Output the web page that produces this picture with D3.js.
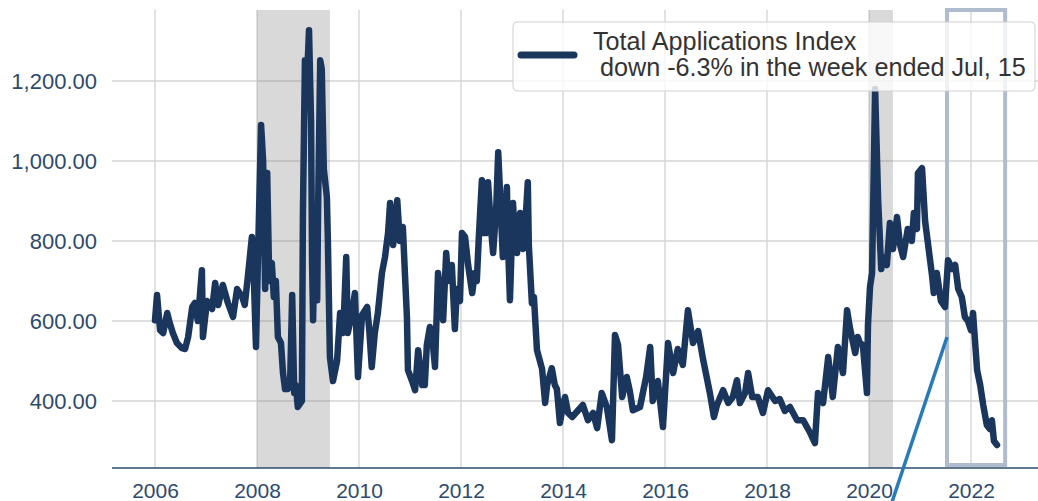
<!DOCTYPE html>
<html>
<head>
<meta charset="utf-8">
<script src="https://cdn.jsdelivr.net/npm/d3@7"></script>
<style>
  html, body { margin: 0; padding: 0; background: #fff; }
  svg { display: block; }
</style>
</head>
<body>
<svg id="chart" width="1038" height="501"></svg>
<script>
// weekly index (decimal years)
const years = [
  2006.00, 2006.04, 2006.10, 2006.16, 2006.24, 2006.29, 2006.35, 2006.43, 2006.53, 2006.59,
  2006.65, 2006.73, 2006.78, 2006.84, 2006.92, 2006.94, 2007.02, 2007.12, 2007.18, 2007.24,
  2007.33, 2007.43, 2007.53, 2007.61, 2007.71, 2007.76, 2007.82, 2007.90, 2007.94, 2007.98,
  2008.02, 2008.08, 2008.12, 2008.16, 2008.20, 2008.24, 2008.29, 2008.33, 2008.37, 2008.41,
  2008.47, 2008.51, 2008.55, 2008.61, 2008.65, 2008.69, 2008.73, 2008.76, 2008.80, 2008.88,
  2008.90, 2008.94, 2008.98, 2009.02, 2009.06, 2009.08, 2009.10, 2009.14, 2009.18, 2009.20,
  2009.24, 2009.27, 2009.29, 2009.31, 2009.37, 2009.39, 2009.43, 2009.49, 2009.57, 2009.63,
  2009.69, 2009.75, 2009.78, 2009.86, 2009.92, 2009.98, 2010.06, 2010.16, 2010.20, 2010.25,
  2010.31, 2010.37, 2010.45, 2010.51, 2010.57, 2010.61, 2010.67, 2010.75, 2010.80, 2010.86,
  2010.90, 2010.94, 2010.96, 2011.04, 2011.10, 2011.16, 2011.24, 2011.29, 2011.33, 2011.39,
  2011.45, 2011.49, 2011.55, 2011.63, 2011.65, 2011.71, 2011.75, 2011.82, 2011.88, 2011.92,
  2011.98, 2012.02, 2012.08, 2012.14, 2012.22, 2012.27, 2012.31, 2012.35, 2012.41, 2012.43,
  2012.49, 2012.53, 2012.59, 2012.63, 2012.69, 2012.73, 2012.78, 2012.82, 2012.90, 2012.92,
  2012.96, 2013.02, 2013.06, 2013.10, 2013.16, 2013.22, 2013.25, 2013.31, 2013.33, 2013.39,
  2013.43, 2013.49, 2013.59, 2013.65, 2013.69, 2013.78, 2013.84, 2013.88, 2013.94, 2014.00,
  2014.04, 2014.10, 2014.18, 2014.39, 2014.49, 2014.59, 2014.67, 2014.76, 2014.86, 2014.96,
  2015.02, 2015.08, 2015.16, 2015.25, 2015.31, 2015.37, 2015.51, 2015.63, 2015.71, 2015.76,
  2015.86, 2015.96, 2016.06, 2016.16, 2016.25, 2016.35, 2016.45, 2016.55, 2016.65, 2016.75,
  2016.88, 2016.96, 2017.02, 2017.14, 2017.24, 2017.33, 2017.41, 2017.47, 2017.57, 2017.63,
  2017.71, 2017.82, 2017.92, 2018.02, 2018.16, 2018.25, 2018.35, 2018.45, 2018.59, 2018.71,
  2018.84, 2018.94, 2019.00, 2019.10, 2019.20, 2019.29, 2019.39, 2019.49, 2019.57, 2019.63,
  2019.73, 2019.78, 2019.82, 2019.88, 2019.96, 2019.98, 2020.02, 2020.06, 2020.12, 2020.18,
  2020.24, 2020.27, 2020.35, 2020.41, 2020.47, 2020.55, 2020.61, 2020.67, 2020.76, 2020.84,
  2020.88, 2020.94, 2020.96, 2021.04, 2021.10, 2021.16, 2021.24, 2021.27, 2021.33, 2021.41,
  2021.49, 2021.55, 2021.63, 2021.69, 2021.75, 2021.82, 2021.88, 2021.94, 2022.00, 2022.04,
  2022.12, 2022.18, 2022.24, 2022.31, 2022.37, 2022.41, 2022.45, 2022.51
];
const index = [
  602, 665, 577, 570, 620, 595, 570, 545, 532, 530,
  560, 635, 645, 600, 727, 560, 650, 630, 695, 640,
  690, 645, 610, 680, 660, 640, 710, 810, 700, 535,
  760, 1090, 1000, 680, 970, 700, 745, 660, 700, 560,
  545, 470, 430, 430, 450, 665, 420, 440, 385, 400,
  860, 1252, 1200, 1327, 1100, 745, 602, 870, 652, 900,
  1252, 1230, 1100, 980, 910, 800, 510, 450, 500, 620,
  570, 760, 570, 620, 670, 460, 615, 635, 580, 485,
  570, 620, 720, 760, 820, 895, 790, 902, 800, 835,
  720, 610, 477, 450, 427, 527, 440, 440, 540, 585,
  540, 485, 720, 630, 602, 770, 700, 740, 580, 680,
  650, 820, 810, 740, 670, 720, 700, 810, 952, 820,
  820, 947, 830, 770, 880, 1022, 880, 760, 935, 800,
  652, 895, 800, 770, 870, 780, 820, 947, 790, 645,
  660, 527, 480, 395, 440, 482, 440, 430, 345, 390,
  410, 370, 360, 390, 352, 370, 332, 420, 385, 302,
  565, 540, 410, 460, 425, 377, 385, 460, 535, 400,
  450, 335, 545, 470, 530, 490, 627, 545, 575, 502,
  420, 360, 390, 427, 395, 410, 452, 395, 420, 470,
  410, 410, 370, 427, 400, 405, 375, 385, 352, 352,
  322, 295, 420, 395, 510, 410, 535, 470, 627, 580,
  520, 560, 545, 540, 420, 590, 685, 720, 1180, 900,
  730, 760, 740, 845, 780, 860, 790, 760, 830, 800,
  870, 830, 970, 982, 850, 790, 710, 670, 720, 650,
  635, 752, 730, 740, 680, 660, 610, 600, 577, 620,
  477, 440, 390, 340, 330, 352, 300, 290
];

const xTicks = [2006, 2008, 2010, 2012, 2014, 2016, 2018, 2020, 2022];
const yTicks = [400, 600, 800, 1000, 1200];
const recessions = [[2008.0, 2009.43], [2020.0, 2020.47]];
const highlight = [2021.53, 2022.67];
const pointer = [[2021.53, 560], [2020.27, 78]];
const legendTitle = 'Total Applications Index';
const legendNote = ' down -6.3% in the week ended Jul, 15';

const navy = '#1b365d';
const tickColor = '#2e4a6b';

var svg = d3.select('#chart');
var plotLeft = 112, plotRight = 1038, plotTop = 10, plotBottom = 468;

var x = d3.scaleLinear().domain([2005.157, 2023.314]).range([plotLeft, plotRight]);
var y = d3.scaleLinear().domain([232.5, 1377.5]).range([plotBottom, plotTop]);

// grid
svg.append('g').selectAll('line')
    .data(yTicks).enter().append('line')
    .attr('x1', plotLeft).attr('x2', plotRight)
    .attr('y1', d => y(d)).attr('y2', d => y(d))
    .attr('stroke', '#d5d5d5').attr('stroke-width', 1.4);

svg.append('g').selectAll('line')
    .data(xTicks).enter().append('line')
    .attr('x1', d => x(d)).attr('x2', d => x(d))
    .attr('y1', plotTop).attr('y2', plotBottom)
    .attr('stroke', '#d5d5d5').attr('stroke-width', 1.4);

// recession shading
svg.append('g').selectAll('rect')
    .data(recessions).enter().append('rect')
    .attr('x', d => x(d[0]))
    .attr('width', d => x(d[1]) - x(d[0]))
    .attr('y', plotTop).attr('height', plotBottom - plotTop)
    .attr('fill', 'grey').attr('fill-opacity', 0.3);

// highlighted window
svg.append('rect')
    .attr('x', x(highlight[0]))
    .attr('width', x(highlight[1]) - x(highlight[0]))
    .attr('y', plotTop).attr('height', plotBottom - 3 - plotTop)
    .attr('fill', 'none')
    .attr('stroke', '#afbccd').attr('stroke-width', 4);

// the series
var data = years.map((t, i) => ({ t: t, v: index[i] }));
var line = d3.line().x(d => x(d.t)).y(d => y(d.v));

svg.append('path')
    .datum(data)
    .attr('d', line)
    .attr('fill', 'none')
    .attr('stroke', navy)
    .attr('stroke-width', 6.5)
    .attr('stroke-linejoin', 'round')
    .attr('stroke-linecap', 'round');

// axes
var xAxis = svg.append('g')
    .attr('transform', 'translate(0,' + plotBottom + ')')
    .call(d3.axisBottom(x).tickValues(xTicks).tickFormat(d3.format('d')).tickSize(0).tickPadding(15));
xAxis.select('.domain').remove();
xAxis.selectAll('text')
    .style('font-family', 'Liberation Sans, Arial, sans-serif')
    .style('font-size', '21px')
    .style('fill', tickColor);

svg.append('line')
    .attr('x1', plotLeft).attr('x2', plotRight)
    .attr('y1', plotBottom).attr('y2', plotBottom)
    .attr('stroke', tickColor).attr('stroke-width', 1.4);

var yAxis = svg.append('g')
    .attr('transform', 'translate(' + plotLeft + ',0)')
    .call(d3.axisLeft(y).tickValues(yTicks).tickFormat(d3.format(',.2f')).tickSize(0).tickPadding(15));
yAxis.select('.domain').remove();
yAxis.selectAll('text')
    .style('font-family', 'Liberation Sans, Arial, sans-serif')
    .style('font-size', '22px')
    .style('fill', tickColor);

// legend
var lg = svg.append('g');
lg.append('rect')
    .attr('x', 513).attr('y', 22)
    .attr('width', 522).attr('height', 69)
    .attr('rx', 4)
    .attr('fill', '#fff').attr('fill-opacity', 0.8)
    .attr('stroke', '#d0d0d0').attr('stroke-width', 1);
lg.append('line')
    .attr('x1', 521).attr('x2', 574)
    .attr('y1', 55).attr('y2', 55)
    .attr('stroke', navy).attr('stroke-width', 7)
    .attr('stroke-linecap', 'round');
lg.append('text')
    .attr('x', 593).attr('y', 50)
    .style('font-family', 'Liberation Sans, Arial, sans-serif')
    .style('font-size', '25.2px')
    .style('fill', '#333')
    .text(legendTitle);
lg.append('text')
    .attr('x', 593).attr('y', 76)
    .attr('xml:space', 'preserve')
    .style('white-space', 'pre')
    .style('font-family', 'Liberation Sans, Arial, sans-serif')
    .style('font-size', '25.2px')
    .style('fill', '#333')
    .text(legendNote);

// pointer line coming up from below the chart
svg.append('line')
    .attr('x1', x(pointer[0][0])).attr('y1', y(pointer[0][1]))
    .attr('x2', x(pointer[1][0])).attr('y2', y(pointer[1][1]))
    .attr('stroke', '#2a7ab8').attr('stroke-width', 3.5);
</script>
</body>
</html>
